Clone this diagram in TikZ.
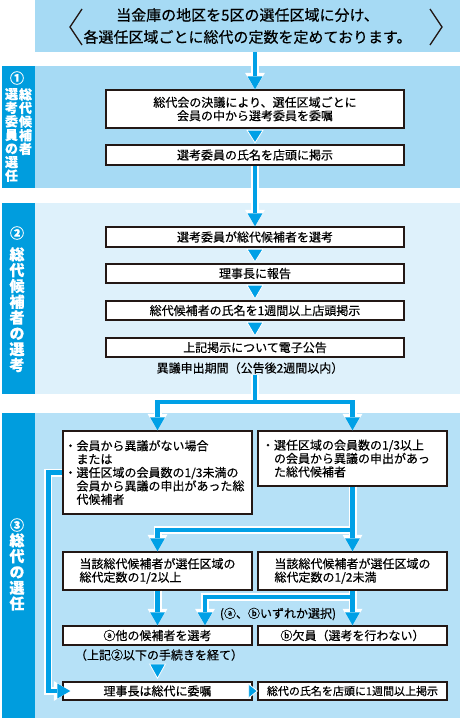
\documentclass[tikz,border=0pt]{standalone}
\usepackage{fontspec}
\setmainfont{Noto Sans CJK JP}[FakeBold=0.4]
\usepackage{tikz}
\usetikzlibrary{arrows.meta}
\usetikzlibrary{calc}
\definecolor{barblue}{HTML}{009DDE}
\definecolor{flowblue}{HTML}{00A0E6}
\definecolor{bgA}{HTML}{A6DAF4}
\definecolor{bgB}{HTML}{DEF1FB}
\definecolor{bgC}{HTML}{B6E1F7}
\definecolor{boxline}{HTML}{231815}
\tikzstyle{banner}=[fill=bgA, minimum width=425pt, minimum height=52pt, inner sep=0pt, align=center, font=\fontsize{15}{22}\selectfont]
\tikzstyle{box}=[draw=boxline, line width=1.4pt, fill=white, inner sep=0pt, align=center, minimum width=298pt, font=\fontsize{12}{13.4}\selectfont]
\tikzstyle{halfbox}=[box, minimum width=189pt]
\tikzstyle{note}=[inner sep=1pt, font=\fontsize{12}{13.4}\selectfont]
\tikzstyle{num}=[text=white, inner sep=0pt, font=\fontsize{14}{14}\selectfont\bfseries]
\tikzstyle{vsmall}=[text=white, align=center, inner sep=0pt, anchor=north, font=\fontsize{13}{13.6}\selectfont\bfseries]
\tikzstyle{vbig}=[vsmall, font=\fontsize{15}{15.8}\selectfont\bfseries]
\tikzstyle{flow}=[draw=flowblue, line width=4.5pt, -{Triangle[width=15pt,length=13pt,line width=0pt]}, preaction={draw=white, line width=8pt, -{Triangle[width=20pt,length=16.5pt,line width=0pt]}}]
\tikzstyle{fork}=[draw=flowblue, line width=4.5pt, {Triangle[width=15pt,length=13pt,line width=0pt]}-{Triangle[width=15pt,length=13pt,line width=0pt]}, preaction={draw=white, line width=8pt, {Triangle[width=20pt,length=16.5pt,line width=0pt]}-{Triangle[width=20pt,length=16.5pt,line width=0pt]}}]
\tikzstyle{tri}=[fill=flowblue, draw=white, line width=0.8pt]
\tikzstyle{bracket}=[draw=boxline, line width=1.3pt]

\begin{document}
\begin{tikzpicture}[x=1pt, y=-1pt]
\useasboundingbox (0,0) rectangle (460,720);

%banner
\node[banner] (top) at (247.5,26) {当金庫の地区を5区の選任区域に分け、\\各選任区域ごとに総代の定数を定めております。};
\draw[bracket] (82,9) -- (70,27) -- (82,45);
\draw[bracket] (430,9) -- (442,27) -- (430,45);

%section backgrounds
\fill[bgA] (35,66) rectangle (460,188);
\fill[barblue] (2,66) rectangle (35,188);
\fill[bgB] (35,203) rectangle (460,394);
\fill[barblue] (2,203) rectangle (35,394);
\fill[bgC] (35,413) rectangle (460,718);
\fill[barblue] (2,413) rectangle (35,718);

%section labels
\node[num] (n1) at (17,78) {①};
\node[vsmall] (v1r) at (25.5,88) {総\\代\\候\\補\\者};
\node[vsmall] (v1l) at (11.5,88) {選\\考\\委\\員\\の\\選\\任};
\node[num] (n2) at (17,233) {②};
\node[vbig] (v2) at (17,247) {総\\代\\候\\補\\者\\の\\選\\考};
\node[num] (n3) at (17,525) {③};
\node[vbig] (v3) at (17,533) {総\\代\\の\\選\\任};

%(1)
\node[box, minimum height=38pt] (b1) at (255,109) {総代会の決議により、選任区域ごとに\\会員の中から選考委員を委嘱};
\node[box, minimum height=20pt] (b2) at (255,155) {選考委員の氏名を店頭に掲示};

%(2)
\node[box, minimum height=20pt] (c1) at (255,237) {選考委員が総代候補者を選考};
\node[box, minimum height=19pt] (c2) at (255,273.5) {理事長に報告};
\node[box, minimum height=19pt] (c3) at (255,310.5) {総代候補者の氏名を1週間以上店頭掲示};
\node[box, minimum height=19pt] (c4) at (255,347.5) {上記掲示について電子公告};
\node[note] (n) at (250,368) {異議申出期間（公告後2週間以内）};

%(3)
\node[halfbox, minimum height=83pt, text width=186pt, inner xsep=1.5pt, align=left] (d1) at (157.5,472.5) {・会員から異議がない場合\\\hspace*{1em}または\\・選任区域の会員数の1/3未満の\\\hspace*{1em}会員から異議の申出があった総\\\hspace*{1em}代候補者};
\node[halfbox, minimum height=55pt, text width=181pt, inner xsep=4pt, align=left] (d2) at (352.5,458.5) {・選任区域の会員数の1/3以上\\\hspace*{1em}の会員から異議の申出があっ\\\hspace*{1em}た総代候補者};
\node[halfbox, minimum height=38pt, align=left] (e1) at (157.5,571) {当該総代候補者が選任区域の\\総代定数の1/2以上};
\node[halfbox, minimum height=38pt, align=left] (e2) at (352.5,571) {当該総代候補者が選任区域の\\総代定数の1/2未満};
\node[note] (n3note) at (278,614) {(ⓐ、ⓑいずれか選択)};
\node[halfbox, minimum height=19pt] (f1) at (157.5,635.5) {ⓐ他の候補者を選考};
\node[halfbox, minimum height=19pt] (f2) at (352.5,635.5) {ⓑ欠員（選考を行わない）};
\node[note] (note2) at (159,655) {（上記②以下の手続きを経て）};
\node[halfbox, minimum height=18pt] (g1) at (157.5,691) {理事長は総代に委嘱};
\node[halfbox, minimum height=18pt, font=\fontsize{11}{12}\selectfont] (g2) at (352.5,691) {総代の氏名を店頭に1週間以上掲示};

%arrows
\coordinate (split1) at (255,402);
\coordinate (split2) at (352.5,530);
\coordinate (split3) at (352.5,597);
\draw[flow] (b1.north |- top.south) -- (b1.north);
\draw[flow] (b2) -- (c1);
\draw[fork] (n.south -| c4.south) -- (split1) (d1.north) |- (split1) -| (d2.north);
\draw[flow] (d1.west) -- ++(-14,0) |- ($(g1.west)+(8,0)$);
\draw[fork] (d2.south) -- (split2) (e1.north) |- (split2) -- (e2.north);
\draw[flow] (e1) -- (f1);
\draw[fork] (e2.south) -- (split3) ($(f1.north)+(47.5,0)$) |- (split3) -- (f2.north);
\foreach \a/\b in {b1/b2, c1/c2, c2/c3, c3/c4}
    \path[tri] ($(\a.south)+(-8,1.5)$) -- ($(\a.south)+(8,1.5)$) -- ($(\b.north)+(0,-1.5)$) -- cycle;
\path[tri] ($(note2.south -| g1.north)+(-8,2)$) -- ($(note2.south -| g1.north)+(8,2)$) -- ($(g1.north)+(0,-3)$) -- cycle;
\path[tri] ($(g1.east)+(-4,-7)$) -- ($(g1.east)+(-4,7)$) -- (g2.west) -- cycle;

\end{tikzpicture}
\end{document}
